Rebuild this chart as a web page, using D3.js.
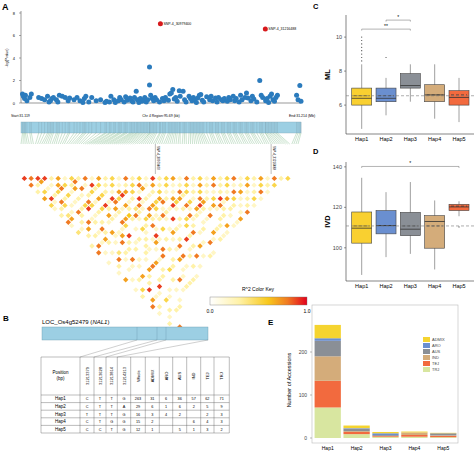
<!doctype html>
<html>
<head>
<meta charset="utf-8">
<script src="https://cdnjs.cloudflare.com/ajax/libs/d3/7.8.5/d3.min.js"></script>
<style>
  body { margin: 0; background: #fff; }
  svg { font-family: "Liberation Sans", Arial, sans-serif; }
</style>
</head>
<body>
<div id="fig"></div>
<script>
// ---- panel A: association (kb from start, -log P) ----
const snpKb = [0.5,0.8,1.2,1.5,2,3,3.5,6,7,8,9,9.5,10,10.5,11,12,12.5,13,14,15,16,16.5,18,19,20,21,21.5,22,23,24,25.5,27,28.5,29,30,30.5,31.5,32,33,33.5,34,35,35.5,36,37,37.5,38,38.5,39.1,39.5,40,40.5,41,41.5,42,42.5,43,43.6,43.6,44,44.5,45,45.5,46,47,47.3,48,48.5,49,50,50.5,51,51.5,52,52.5,53,53.7,54,55,55.5,56,57,57.5,58,58.5,59,59.5,60,60.5,61,61.5,62,63,64,64.5,65,66,66.5,67,68,68.5,69,70,70.5,71,72,72.5,73,74,74.5,75,76,76.5,77,78,78.5,79,80,81,81.5,82,82.9,83,83.5,84,84.5,85,85.5,86,86.5,87,93.5,94,94.6,95];
const snpLogP = [0.8,0.6,0.4,0.7,0.2,0.5,0.8,0.5,0.4,0.3,0.6,0.1,0.2,0.4,0.5,0.3,0.1,0.7,0.6,0.5,0.2,0.45,0.3,0.5,0.2,0.05,0.4,0.6,0.1,0.5,0.2,0.3,0.05,0.15,0.1,0.6,0.3,0.05,0.2,0.5,0.3,0.1,0.55,0.25,0.45,0.2,0.1,0.5,1.05,0.3,0.05,0.4,0.15,0.25,0.5,0.1,0.3,1.6,3.2,0.7,0.4,0.2,0.5,0.3,0.1,7.05,0.4,0.2,0.5,0.25,0.8,0.9,1.2,0.35,0.5,0.15,1.1,0.6,1.05,0.3,0.1,0.6,0.4,0.2,0.5,0.3,0.05,0.45,0.7,0.75,0.25,0.1,0.55,0.3,0.6,0.2,0.45,0.1,0.5,0.3,0.2,0.4,0.15,0.5,0.3,0.6,0.2,0.4,0.1,0.7,0.3,0.5,0.9,0.45,0.2,0.6,0.35,0.1,2.0,0.7,0.5,6.57,0.2,0.4,0.05,0.6,0.8,0.3,0.15,0.5,0.7,0.7,0.3,1.55,0.15];
const topSnps = [{kb: 47.3, name: "SNP-4_30979400"}, {kb: 82.9, name: "SNP-4_31216488"}];
const yTicksA = [0, 2, 4, 6, 8];

// LD r^2 (digit = r2*10, "." = none); row i holds pairs (i, i+1..)
const ldRows = [
"9.8.3.7.52.3.82.4...3.8..2..2.7..2.3..8.2..3..7",
"8.3.5.92.3.47..2.3..8.2...3...2..5..7.3..2..8",
"97.2.3.85.2..3.7.3.2..2.8..2..3..9.2...3..",
"9.2.5.3.2.83.8..2.73..4.2.2..7.3..2.5..3",
"3.78.5.2.3..23.83..2..3.8.2..3..9..2..3",
"7.5.2.3.59.2.3..72.8.3..2..7..3..2..2",
"2.37.2.85.3..2..27.3.3..2.8..3...2..",
"58.8.3.2.5.73..2.9.2..3..7.3..3..2.",
"3.2.5.7.93.2.85...3.32..2..5..8.3.",
"8.93.5.2.73.7..2..3..2.8..3..2.3",
"2.5.3.98.2.63..52.27.8..3..2..3",
"7.3.2.5.73.82.3..92..3..7.2..2",
"3.5.79.2.43.5.82..3..2.8..3.",
"5.2.7.3.82.73..5..2.8..3..2",
"2.3.5.92.8.23..27.3..2.8..",
"8.5.2.3.75.82..3..9.3..2.",
"3.87.2.5.23.9.2..3..7..3",
"5.2.3.78.2..3.5.8..2..2",
"2.7.5.3.92..5.3.2..8.",
"9.3.2.75.3.82..3..2.",
"3.5.2.7.82.3.2..7.3",
"5.2.83.5.72.2..3.2",
"7.3.5.2.93.8..3.2",
"2.5.3.87.2..3.7.",
"8.2.5.3.72.3..2",
"3.7.2.5.83.2.2",
"5.3.2.92.3..7",
"2.8.3.7.3.2.",
"7.3.2.5.2.8",
"3.5.8.2.3.",
"5.2.7.3.2",
"8.3.2.5.",
"2.7.3.2",
"5.2.8.",
"3.5.2",
"7.3.",
"2.5",
"8.",
"3",
"5",
""];

// ---- panel B table ----
const tableCols = ["31213379","31213628","31213814","31214213","Whole","ADMIX","ARO","AUS","IND","TEJ","TRJ"];
const haps = ["Hap1","Hap2","Hap3","Hap4","Hap5"];
const tableRows = [
  ["C","T","T","G","263","31","6","36","57","62","71"],
  ["C","T","T","A","29","6","1","6","2","5","9"],
  ["T","T","T","G","16","3","4","2","","2","3"],
  ["C","T","G","G","15","2","","","6","4","3"],
  ["C","C","T","G","12","1","","5","1","3","2"]];

// ---- panel C / D boxplots ----
const hapColors = ["#f9d030","#6a8fd0","#8a8f96","#d4ac7a","#f26a3e"];
const mlStats = {lo:[4.6,5.4,6.2,5.2,5.0], q1:[6.0,6.2,7.0,6.2,6.0], med:[6.4,6.4,7.15,6.6,6.45], q3:[7.0,7.0,7.85,7.2,6.85], hi:[8.4,7.6,8.4,8.4,7.6], mean:[6.55,6.55,null,6.6,6.6]};
const mlOut = [[0,8.6],[0,8.8],[0,9.0],[0,9.2],[0,9.4],[0,9.6],[0,9.8],[0,10.0],[1,8.8]];
const ivdStats = {lo:[86.6,95.4,97,89.3,115.6], q1:[102.3,106.9,106,99.8,118.4], med:[109.7,111,109.2,113,120.2], q3:[117.7,118.4,117.5,115.9,121.5], hi:[134.6,127.5,132.5,123.4,123], mean:[110.8,111,110.8,110.8,120.6]};
const ivdOut = [[4,110.3]];

// ---- panel E ----
const groups = ["ADMIX","ARO","AUS","IND","TEJ","TRJ"];
const groupColors = ["#f5d430","#6a8fd0","#8a8f96","#d4ac7a","#f26a3e","#d8e6a0"];
const counts = tableRows.map(r => r.slice(5).map(v => +v || 0));

const svg = d3.select("#fig").append("svg").attr("width", 474).attr("height", 453);
const lab = (x, y, t, size, extra) => svg.append("text").attr("x", x).attr("y", y).attr("font-size", size).text(t).call(s => extra && extra(s));
const bold = s => s.attr("font-weight", "bold");
const mid = s => s.attr("text-anchor", "middle");

// ===== A =====
lab(2, 10, "A", 9, bold);
const xA = d3.scaleLinear().domain([0, 95]).range([21, 301]);
const yA = d3.scaleLinear().domain([0, 8]).range([103, 13]);
const gA = svg.append("g");
gA.append("line").attr("x1", 21).attr("x2", 21).attr("y1", 11).attr("y2", 103).attr("stroke", "#555").attr("stroke-width", 0.6);
gA.append("line").attr("x1", 21).attr("x2", 301).attr("y1", 103).attr("y2", 103).attr("stroke", "#555").attr("stroke-width", 0.6);
yTicksA.forEach(t => {
  gA.append("line").attr("x1", 19).attr("x2", 21).attr("y1", yA(t)).attr("y2", yA(t)).attr("stroke", "#555").attr("stroke-width", 0.5);
  gA.append("text").attr("x", 15).attr("y", yA(t) + 1.5).attr("font-size", 4).attr("text-anchor", "end").text(t);
});
gA.append("text").attr("transform", "translate(8,58) rotate(-90)").attr("font-size", 3.5).attr("text-anchor", "middle").text("-log(Pvalue)");
snpKb.forEach((k, i) => {
  const top = snpLogP[i] > 6;
  gA.append("circle").attr("cx", xA(k)).attr("cy", yA(snpLogP[i])).attr("r", 2.5)
    .attr("fill", top ? "#d7191c" : "#2b7bbd");
});
topSnps.forEach(s => {
  const i = snpKb.indexOf(s.kb);
  gA.append("text").attr("x", xA(s.kb) + 3).attr("y", yA(snpLogP[i]) + 1).attr("font-size", 3.5).text(s.name);
});
lab(11, 117, "Start:31.119", 3.5);
lab(161, 117, "Chr 4 Region:95.69 (kb)", 3.5, mid);
lab(289, 117, "End:31.214 (Mb)", 3.5);

// gene bar + fan to LD
svg.append("rect").attr("x", 21).attr("y", 122).attr("width", 280).attr("height", 11).attr("fill", "#9ccfe3").attr("stroke", "#8ab").attr("stroke-width", 0.4);
const N = ldRows.length + 1;
const ldLeft = 21, ldRight = 298, ldTop = 175;
const step = (ldRight - ldLeft) / (N - 1);
const order = d3.range(snpKb.length).sort((a, b) => snpKb[a] - snpKb[b]);
const xFan = d3.scaleLinear().domain([0, snpKb.length - 1]).range([ldLeft, ldRight]);
order.forEach((idx, r) => {
  const x = xA(snpKb[idx]);
  svg.append("line").attr("x1", x).attr("x2", x).attr("y1", 122).attr("y2", 133).attr("stroke", "#7a9aa8").attr("stroke-width", 0.3);
  svg.append("line").attr("x1", x).attr("x2", xFan(r)).attr("y1", 133).attr("y2", 144).attr("stroke", "#6fb07a").attr("stroke-width", 0.35);
});
topSnps.forEach(s => {
  const r = order.findIndex(i => snpKb[i] === s.kb);
  const x = xFan(r);
  svg.append("line").attr("x1", x).attr("x2", x).attr("y1", 144).attr("y2", 174).attr("stroke", "#555").attr("stroke-width", 0.4);
  svg.append("text").attr("transform", `translate(${x + 1.5},146) rotate(90)`).attr("font-size", 3).text(s.name);
});

// LD triangle
const ldColor = d3.scaleLinear().domain([0, 0.3, 0.6, 0.8, 1]).range(["#ffffff", "#fff2a8", "#f8c81c", "#f07a22", "#e3001b"]);
ldRows.forEach((row, i) => {
  row.split("").forEach((c, k) => {
    if (c === ".") return;
    const j = i + k + 1;
    const cx = ldLeft + (i + j) / 2 * step, cy = ldTop + (j - i) / 2 * step;
    const h = step / 2 * 0.8;
    svg.append("path").attr("d", `M${cx},${cy - h}L${cx + h},${cy}L${cx},${cy + h}L${cx - h},${cy}Z`).attr("fill", ldColor(+c / 10));
  });
});
// colour key
const grad = svg.append("defs").append("linearGradient").attr("id", "ldkey");
d3.range(0, 1.01, 0.1).forEach(t => grad.append("stop").attr("offset", t).attr("stop-color", ldColor(t)));
svg.append("rect").attr("x", 210).attr("y", 297).attr("width", 97).attr("height", 8).attr("fill", "url(#ldkey)").attr("stroke", "#777").attr("stroke-width", 0.4);
lab(258, 291, "R^2 Color Key", 5, mid);
lab(210, 313, "0.0", 5, mid);
lab(307, 313, "1.0", 5, mid);

// ===== B =====
lab(3, 321, "B", 8, bold);
const geneLab = lab(42, 324, "LOC_Os4g52479 (", 6);
geneLab.append("tspan").attr("font-style", "italic").text("NAL1");
geneLab.append("tspan").text(")");
geneLab.attr("font-style", null);
geneLab.select("tspan").attr("font-style", "italic");
const geneCuts = [137, 157, 166, 208];
svg.append("rect").attr("x", 42).attr("y", 327).attr("width", 166).attr("height", 13).attr("fill", "#9ccfe3").attr("stroke", "#6a9bb0").attr("stroke-width", 0.4);
geneCuts.slice(0, 3).forEach(x => svg.append("line").attr("x1", x).attr("x2", x).attr("y1", 327).attr("y2", 340).attr("stroke", "#6a9bb0").attr("stroke-width", 0.4));
const colEdges = [41, 80, 94, 106, 117.3, 130.7, 145.3, 159.3, 172.7, 186.7, 200.7, 214, 229.3];
geneCuts.forEach((x, k) => svg.append("line").attr("x1", x).attr("y1", 340).attr("x2", colEdges[k + 1]).attr("y2", 357).attr("stroke", "#888").attr("stroke-width", 0.4));
const rowEdges = [357, 395, 402.6, 410.2, 417.8, 425.4, 433];
const tb = svg.append("g").attr("stroke", "#555").attr("stroke-width", 0.4);
colEdges.forEach(x => tb.append("line").attr("x1", x).attr("x2", x).attr("y1", 357).attr("y2", 433));
rowEdges.forEach(y => tb.append("line").attr("x1", 41).attr("x2", 229.3).attr("y1", y).attr("y2", y));
lab(60.5, 374, "Position", 4.5, mid);
lab(60.5, 380, "(bp)", 4.5, mid);
tableCols.forEach((c, k) => {
  const cx = (colEdges[k + 1] + colEdges[k + 2]) / 2;
  svg.append("text").attr("transform", `translate(${cx + 1.5},376) rotate(-90)`).attr("font-size", 4).attr("text-anchor", "middle").text(c);
});
haps.forEach((h, r) => {
  const cy = (rowEdges[r + 1] + rowEdges[r + 2]) / 2 + 1.5;
  lab(60.5, cy, h, 4.5, mid);
  tableRows[r].forEach((v, k) => lab((colEdges[k + 1] + colEdges[k + 2]) / 2, cy, v, 3.8, mid));
});

// ===== C / D boxplots =====
function boxPanel(o) {
  const x = d3.scalePoint().domain(haps).range([361.7, 459]);
  const y = d3.scaleLinear().domain(o.domain).range([o.bottom, o.top]);
  const g = svg.append("g");
  g.append("line").attr("x1", 346).attr("x2", 346).attr("y1", o.top).attr("y2", o.bottom).attr("stroke", "#333").attr("stroke-width", 0.6);
  g.append("line").attr("x1", 346).attr("x2", 474).attr("y1", o.bottom).attr("y2", o.bottom).attr("stroke", "#333").attr("stroke-width", 0.6);
  o.ticks.forEach(t => {
    g.append("line").attr("x1", 344).attr("x2", 346).attr("y1", y(t)).attr("y2", y(t)).attr("stroke", "#333").attr("stroke-width", 0.5);
    g.append("text").attr("x", 342).attr("y", y(t) + 2).attr("font-size", 5.5).attr("fill", "#444").attr("text-anchor", "end").text(t);
  });
  g.append("text").attr("transform", `translate(${o.labX},${(o.top + o.bottom) / 2}) rotate(-90)`).attr("font-size", 7.5).attr("font-weight", "bold").attr("text-anchor", "middle").text(o.label);
  const st = o.stats;
  haps.forEach((h, i) => {
    const cx = x(h), w = 10;
    g.append("line").attr("x1", cx).attr("x2", cx).attr("y1", y(st.lo[i])).attr("y2", y(st.hi[i])).attr("stroke", "#888").attr("stroke-width", 0.8);
    g.append("rect").attr("x", cx - w).attr("y", y(st.q3[i])).attr("width", 2 * w).attr("height", y(st.q1[i]) - y(st.q3[i]))
      .attr("fill", hapColors[i]).attr("stroke", "#444").attr("stroke-width", 0.6);
    g.append("line").attr("x1", cx - w).attr("x2", cx + w).attr("y1", y(st.med[i])).attr("y2", y(st.med[i])).attr("stroke", "#333").attr("stroke-width", 0.8);
    if (st.mean[i] != null) g.append("line").attr("x1", cx - w + 2).attr("x2", cx + w - 2).attr("y1", y(st.mean[i])).attr("y2", y(st.mean[i]))
      .attr("stroke", "#333").attr("stroke-width", 0.7).attr("stroke-dasharray", "3,2");
    g.append("text").attr("x", cx).attr("y", o.bottom + 7).attr("font-size", 5.5).attr("text-anchor", "middle").text(h);
  });
  o.out.forEach(([i, v]) => g.append("circle").attr("cx", x(haps[i])).attr("cy", y(v)).attr("r", 0.6).attr("fill", "#444"));
  g.append("line").attr("x1", 346).attr("x2", 474).attr("y1", y(o.ref)).attr("y2", y(o.ref)).attr("stroke", "#777").attr("stroke-width", 0.6).attr("stroke-dasharray", "3,2");
  o.sig.forEach(s => {
    const yy = y(s.v);
    g.append("path").attr("d", `M${x(haps[s.a])},${yy + 1.5}V${yy}H${x(haps[s.b])}V${yy + 1.5}`).attr("fill", "none").attr("stroke", "#666").attr("stroke-width", 0.5);
    g.append("text").attr("x", (x(haps[s.a]) + x(haps[s.b])) / 2).attr("y", yy - 1).attr("font-size", 5).attr("text-anchor", "middle").text(s.t);
  });
}
lab(313, 9, "C", 7.5, bold);
boxPanel({domain: [4.3, 11.3], top: 15, bottom: 134, ticks: [6, 8, 10], label: "ML", labX: 330, stats: mlStats, out: mlOut, ref: 6.55,
  sig: [{a: 0, b: 2, v: 10.47, t: "**"}, {a: 1, b: 2, v: 11.0, t: "*"}]});
lab(313, 154, "D", 7.5, bold);
boxPanel({domain: [83.6, 142.4], top: 162, bottom: 281, ticks: [100, 120, 140], label: "IVD", labX: 330, stats: ivdStats, out: ivdOut, ref: 110.8,
  sig: [{a: 0, b: 4, v: 140.2, t: "*"}]});

// ===== E =====
lab(268, 325, "E", 8, bold);
const xE = d3.scaleBand().domain(haps).range([314, 457]).paddingInner(0.09).paddingOuter(0.02);
const yE = d3.scaleLinear().domain([0, 300]).range([438, 309]);
svg.append("rect").attr("x", 312).attr("y", 305).attr("width", 146).attr("height", 138).attr("fill", "none").attr("stroke", "#bbb").attr("stroke-width", 0.6);
[0, 100, 200].forEach(t => {
  svg.append("text").attr("x", 307).attr("y", yE(t) + 2).attr("font-size", 5).attr("fill", "#444").attr("text-anchor", "end").text(t);
  svg.append("line").attr("x1", 310).attr("x2", 312).attr("y1", yE(t)).attr("y2", yE(t)).attr("stroke", "#777").attr("stroke-width", 0.5);
});
svg.append("text").attr("transform", "translate(291,380) rotate(-90)").attr("font-size", 5.5).attr("text-anchor", "middle").text("Number of Accessions");
const stackOrder = [5, 4, 3, 2, 1, 0];
haps.forEach((h, i) => {
  let acc = 0;
  stackOrder.forEach(gi => {
    const v = counts[i][gi];
    if (!v) return;
    svg.append("rect").attr("x", xE(h)).attr("width", xE.bandwidth()).attr("y", yE(acc + v)).attr("height", yE(acc) - yE(acc + v)).attr("fill", groupColors[gi]);
    acc += v;
  });
  svg.append("text").attr("x", xE(h) + xE.bandwidth() / 2).attr("y", 450).attr("font-size", 5).attr("text-anchor", "middle").text(h);
});
groups.forEach((gname, k) => {
  const yy = 337 + k * 6;
  svg.append("rect").attr("x", 423).attr("y", yy).attr("width", 7).attr("height", 5).attr("fill", groupColors[k]);
  svg.append("text").attr("x", 432).attr("y", yy + 4).attr("font-size", 4).attr("fill", "#444").text(gname);
});
</script>
</body>
</html>
